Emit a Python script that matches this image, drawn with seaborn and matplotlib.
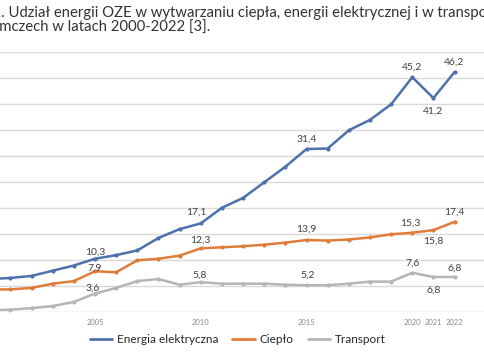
import numpy as np
import pandas as pd
import seaborn as sns
import matplotlib.pyplot as plt
from matplotlib.lines import Line2D

lata = list(range(2000, 2023))
energia_elektryczna = [6.4, 6.6, 7.0, 8.0, 9.0, 10.3, 11.0, 11.9, 14.3, 16.0, 17.1, 20.1,
                       22.0, 25.0, 28.0, 31.4, 31.5, 35.0, 37.0, 40.0, 45.2, 41.2, 46.2]
cieplo = [4.4, 4.4, 4.7, 5.5, 6.0, 7.9, 7.7, 10.0, 10.3, 10.9, 12.3, 12.5,
          12.7, 13.0, 13.4, 13.9, 13.8, 14.0, 14.4, 15.0, 15.3, 15.8, 17.4]
transport = [0.4, 0.5, 0.8, 1.2, 2.0, 3.6, 4.7, 6.0, 6.4, 5.3, 5.8, 5.5,
             5.5, 5.5, 5.3, 5.2, 5.2, 5.5, 5.9, 5.9, 7.6, 6.8, 6.8]
serie = ['Energia elektryczna', 'Ciepło', 'Transport']
kolory = ['#4d71aa', '#e07c3a', '#b5b5b5']
lata_etykiety = [2005, 2010, 2015, 2020, 2021, 2022]

df = pd.DataFrame({'rok': lata * 3,
                   'udzial': energia_elektryczna + cieplo + transport,
                   'seria': [s for s in serie for _ in lata]})

sns.set_style('white')
plt.rcParams['font.family'] = ['Lato', 'DejaVu Sans']

fig = plt.figure(figsize=(4.85, 3.6), dpi=100)
# axes wider than the figure: the reference is a cropped screenshot
ax = fig.add_axes([-0.0439, 0.1325, 1.0466, 0.7222])

sns.lineplot(data=df, x='rok', y='udzial', hue='seria', palette=kolory,
             marker='o', markersize=3, markeredgewidth=0, linewidth=1.8,
             legend=False, ax=ax)

ax.set_xlim(1999.5, 2023.5)
ax.set_ylim(0, 50)
ax.set_yticks(np.arange(0, 51, 5))
ax.set_yticklabels([])
ax.set_xticks(lata_etykiety)
ax.set_xticklabels([str(r) for r in lata_etykiety], fontsize=5.5, color='#8c8c8c')
ax.tick_params(axis='both', length=0)
ax.tick_params(axis='x', pad=5)
ax.grid(axis='y', color='#d9d9d9', linewidth=1)
ax.set_axisbelow(True)
for s in ax.spines.values():
    s.set_visible(False)
ax.set_xlabel('')
ax.set_ylabel('')

# data labels (year, dx, dy in pixels)
etykiety = [
    (energia_elektryczna, [(2005, 0, 7), (2010, -4, 11), (2015, 0, 10), (2020, 0, 10),
                           (2021, 0, -13), (2022, -1, 10)]),
    (cieplo, [(2005, 0, 3), (2010, 0, 8), (2015, 0, 11), (2020, -2, 10),
              (2021, 0, -11), (2022, 0, 10)]),
    (transport, [(2005, -2, 5), (2010, -1, 7), (2015, 1, 10), (2020, 0, 10),
                 (2021, 0, -13), (2022, 0, 9)]),
]
for wartosci, pozycje in etykiety:
    for rok, dx, dy in pozycje:
        v = wartosci[lata.index(rok)]
        ax.annotate(f'{v:.1f}'.replace('.', ','), (rok, v), xytext=(dx, dy),
                    textcoords='offset pixels', ha='center', va='center',
                    fontsize=7.5, color='#404040')

uchwyty = [Line2D([], [], color=k, linewidth=2) for k in kolory]
fig.legend(uchwyty, serie, loc='center', bbox_to_anchor=(0.49, 0.056), ncol=3,
           frameon=False, fontsize=8.5, handlelength=1.9, handletextpad=0.4,
           columnspacing=1.2)

# title, cut off at both sides like the screenshot
tytul1 = 'Rys. 1. Udział energii OZE w wytwarzaniu ciepła, energii elektrycznej i w transporcie'
tytul2 = 'w Niemczech w latach 2000-2022 [3].'
fs_tytul = 10.7
fig.canvas.draw()
r = fig.canvas.get_renderer()
t = fig.text(0, 0, 'Rys. 1', fontsize=fs_tytul)
w1 = t.get_window_extent(r).width
t.set_text('w Nie')
w2 = t.get_window_extent(r).width
t.remove()
fig.text((1 - w1) / 485, 1 - 12.5 / 360, tytul1, fontsize=fs_tytul, color='#333333', va='center')
fig.text((-1 - w2) / 485, 1 - 28 / 360, tytul2, fontsize=fs_tytul, color='#333333', va='center')

fig.savefig('out.png', dpi=100)
